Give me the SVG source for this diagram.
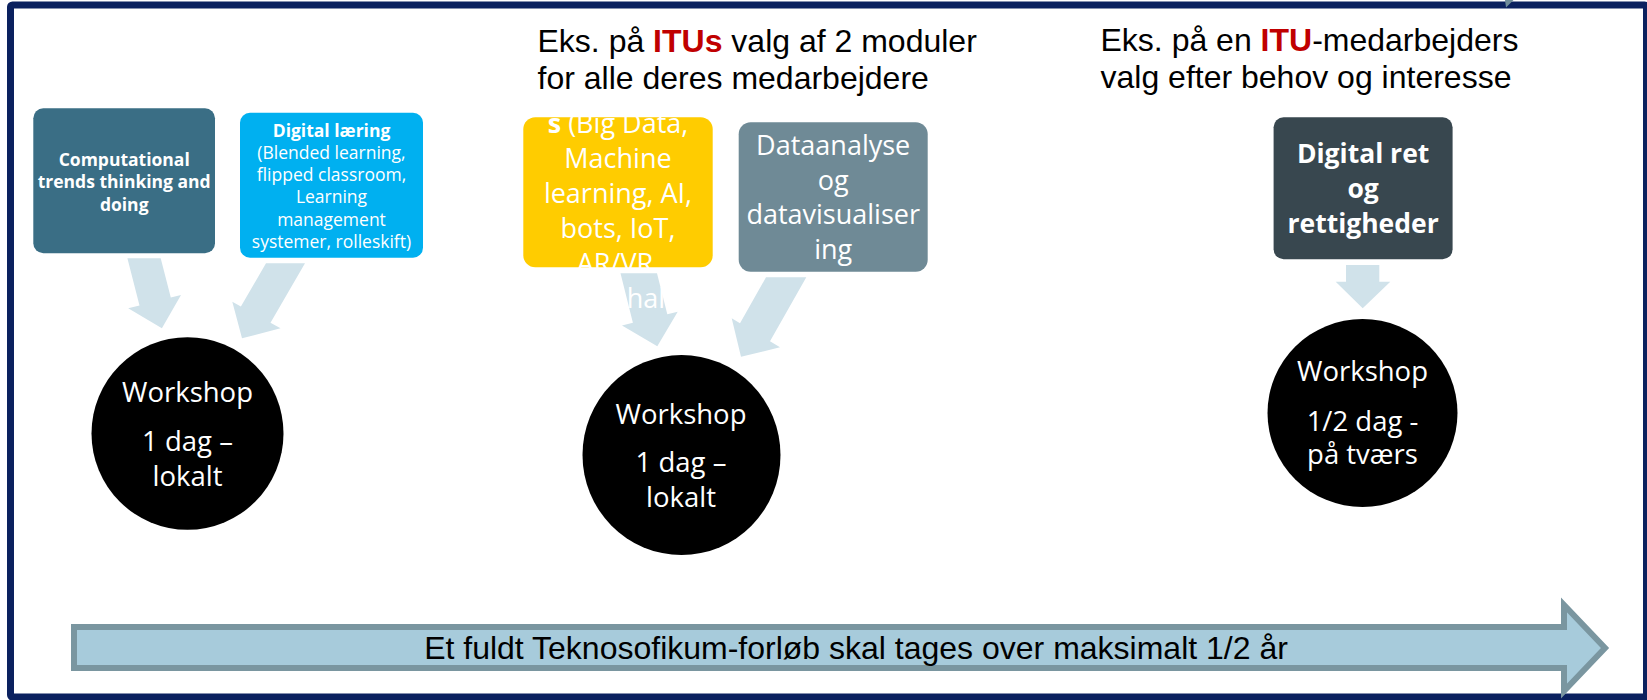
<svg xmlns="http://www.w3.org/2000/svg" width="1647" height="700" viewBox="0 0 1647 700">
<style>
.sans{font-family:'Open Sans','Noto Sans',sans-serif;fill:#ffffff;text-anchor:middle}
.b{font-weight:bold}
.title{font-family:'Liberation Sans',Arial,sans-serif;font-size:32px;fill:#000000}
.itu{font-weight:bold;fill:#c00000}
.conn{fill:#d0e2ea}
.circ{fill:#000000}
</style>
<rect width="1647" height="700" fill="#ffffff"/>
<rect id="frame" x="10.5" y="5" width="1636" height="692" rx="2" fill="none" stroke="#0b215f" stroke-width="7"/>
<polygon points="1505,0 1513.5,0 1506,7.5" fill="#6f8c99"/>

<g id="titles">
  <text class="title" x="537.5" y="51.5">Eks. på <tspan class="itu">ITUs</tspan> valg af 2 moduler</text>
  <text class="title" x="537.5" y="88.5">for alle deres medarbejdere</text>
  <text class="title" x="1100.5" y="51">Eks. på en <tspan class="itu">ITU</tspan>-medarbejders</text>
  <text class="title" x="1100.5" y="88">valg efter behov og interesse</text>
</g>

<g id="connectors">
  <polygon class="conn" points="127.4,258.3 160.7,258.3 170.8,297.6 181,295 161.9,328.3 128.2,308.3 139.5,305.5"/>
  <polygon class="conn" points="266,263.3 305,263.3 270.5,322.8 280.5,328.3 242,338.3 232.3,301.7 240.9,306.5"/>
  <polygon class="conn" points="620.5,273.3 657,273.3 667.3,314.3 677.7,311.7 657.3,346.3 622,325.5 632.9,322.8"/>
  <polygon class="conn" points="766,277.3 806.3,277.3 770,341.3 780,347.3 741,356.7 731.7,318.3 740,323.3"/>
  <polygon class="conn" points="1346,265 1379.3,265 1379.3,281.7 1390.3,281.7 1362.7,308.3 1335.7,281.7 1346,281.7"/>
</g>

<g id="node-computational">
  <rect x="33.3" y="108.3" width="181.7" height="145" rx="10" fill="#3a6e85"/>
  <text class="sans b" font-size="17.5" x="124.2" y="165.7">Computational</text>
  <text class="sans b" font-size="17.5" x="124.2" y="188.2">trends thinking and</text>
  <text class="sans b" font-size="17.5" x="124.2" y="210.7">doing</text>
</g>

<g id="node-digital-laering">
  <rect x="240" y="112.7" width="183" height="145" rx="10" fill="#00b0f0"/>
  <text class="sans b" font-size="17.5" x="331.5" y="136.7">Digital læring</text>
  <text class="sans" font-size="17.5" x="331.5" y="158.9">(Blended learning,</text>
  <text class="sans" font-size="17.5" x="331.5" y="181.1">flipped classroom,</text>
  <text class="sans" font-size="17.5" x="331.5" y="203.3">Learning</text>
  <text class="sans" font-size="17.5" x="331.5" y="225.5">management</text>
  <text class="sans" font-size="17.5" x="331.5" y="247.7">systemer, rolleskift)</text>
</g>

<g id="node-teknologier">
  <rect x="523.3" y="117.3" width="189.4" height="150" rx="12" fill="#ffcc00"/>
  <text class="sans" font-size="27" x="618" y="133.3"><tspan class="b">s</tspan> (Big Data,</text>
  <text class="sans" font-size="27" x="618" y="168.3">Machine</text>
  <text class="sans" font-size="27" x="618" y="203">learning, AI,</text>
  <text class="sans" font-size="27" x="618" y="237.7">bots, IoT,</text>
  <text class="sans" font-size="27" x="615" y="272.5">AR/VR</text>
  <text class="sans" font-size="27" x="646" y="307.5">hal</text>
</g>

<g id="node-dataanalyse">
  <rect x="738.7" y="122.3" width="189" height="149.4" rx="12" fill="#6f8a96"/>
  <text class="sans" font-size="27" x="833.2" y="155">Dataanalyse</text>
  <text class="sans" font-size="27" x="833.2" y="189.5">og</text>
  <text class="sans" font-size="27" x="833.2" y="224">datavisualiser</text>
  <text class="sans" font-size="27" x="833.2" y="258.5">ing</text>
</g>

<g id="node-digital-ret">
  <rect x="1273.6" y="117.3" width="179" height="142" rx="10" fill="#38474f"/>
  <text class="sans b" font-size="26.5" x="1363.1" y="163.3">Digital ret</text>
  <text class="sans b" font-size="26.5" x="1363.1" y="198.3">og</text>
  <text class="sans b" font-size="26.5" x="1363.1" y="233.3">rettigheder</text>
</g>

<g id="node-workshop-1">
  <ellipse class="circ" cx="187.5" cy="433.5" rx="96" ry="96.3"/>
  <text class="sans" font-size="27.5" x="187.5" y="401.7">Workshop</text>
  <text class="sans" font-size="27.5" x="187.5" y="450.7">1 dag –</text>
  <text class="sans" font-size="27.5" x="187.5" y="485.7">lokalt</text>
</g>

<g id="node-workshop-2">
  <ellipse class="circ" cx="681.5" cy="455" rx="99" ry="100"/>
  <text class="sans" font-size="27.5" x="681" y="424">Workshop</text>
  <text class="sans" font-size="27.5" x="681" y="471.7">1 dag –</text>
  <text class="sans" font-size="27.5" x="681" y="506.7">lokalt</text>
</g>

<g id="node-workshop-3">
  <ellipse class="circ" cx="1362.5" cy="413" rx="95" ry="94"/>
  <text class="sans" font-size="27.5" x="1362.5" y="380.7">Workshop</text>
  <text class="sans" font-size="27.5" x="1362.5" y="431">1/2 dag -</text>
  <text class="sans" font-size="27.5" x="1362.5" y="464">på tværs</text>
</g>

<g id="node-timeline">
  <polygon points="74,627 1564,627 1564,605 1605,648 1564,691 1564,668 74,668" fill="#a7cbdb" stroke="#7a96a0" stroke-width="6" stroke-linejoin="miter"/>
  <text x="856" y="658.5" font-family="'Liberation Sans',Arial,sans-serif" font-size="32" fill="#000000" text-anchor="middle">Et fuldt Teknosofikum-forløb skal tages over maksimalt 1/2 år</text>
</g>
</svg>
